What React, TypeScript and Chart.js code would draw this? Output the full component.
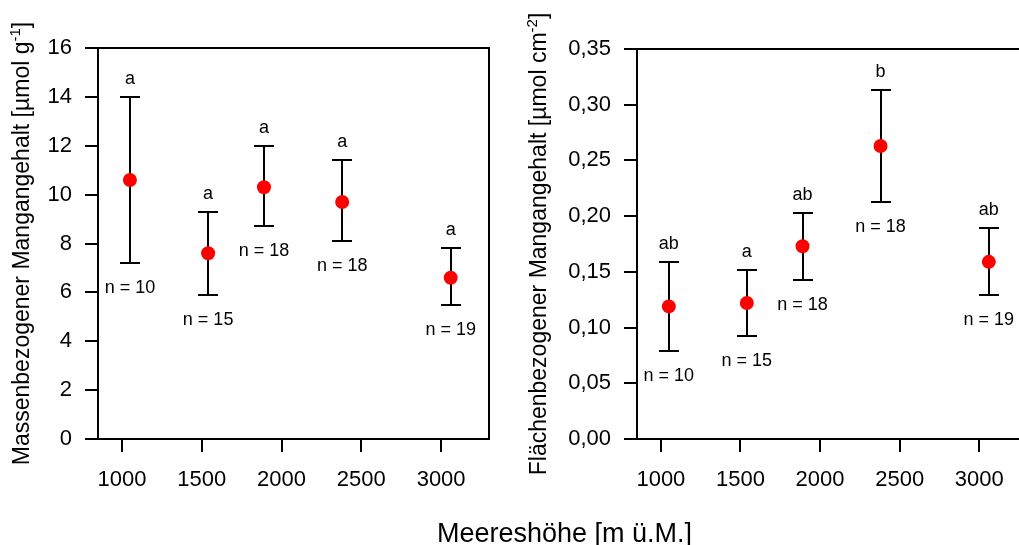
import React, { useEffect, useRef } from "react";
import { Chart, registerables } from "chart.js";

Chart.register(...registerables);

// ---------- data ----------
const altitudes = [1050, 1540, 1890, 2380, 3060];
const sampleSizes = [10, 15, 18, 18, 19];

const massMean = [10.6, 7.6, 10.3, 9.7, 6.6];
const massUpper = [14.0, 9.3, 12.0, 11.4, 7.8];
const massLower = [7.2, 5.9, 8.7, 8.1, 5.5];
const massLetters = ["a", "a", "a", "a", "a"];

const areaMean = [0.119, 0.122, 0.173, 0.263, 0.159];
const areaUpper = [0.159, 0.152, 0.203, 0.313, 0.189];
const areaLower = [0.079, 0.092, 0.143, 0.213, 0.129];
const areaLetters = ["ab", "a", "ab", "b", "ab"];

const xTickValues = [1000, 1500, 2000, 2500, 3000];
const massTickValues = [0, 2, 4, 6, 8, 10, 12, 14, 16];
const areaTickValues = [0, 0.05, 0.1, 0.15, 0.2, 0.25, 0.3, 0.35];

const xTitle = "Meereshöhe [m ü.M.]";
const massTitle = ["Massenbezogener Mangangehalt [µmol g", "-1", "]"];
const areaTitle = ["Flächenbezogener Mangangehalt [µmol cm", "-2", "]"];

const FONT = "'Liberation Sans', Arial, Helvetica, sans-serif";

type PanelSpec = {
  means: number[];
  upper: number[];
  lower: number[];
  letters: string[];
  yTicks: number[];
  yMax: number;
  fmt: (v: number) => string;
  title: string[];
  titleX: number;
  yAxisWidth: number;
  padTop: number;
  padRight: number;
  xAxisHeight: number;
};

function buildChart(canvas: HTMLCanvasElement, p: PanelSpec) {
  const decorations = {
    id: "decorations",
    beforeDatasetsDraw(chart: any) {
      const { ctx, scales } = chart;
      const x = scales.x;
      const y = scales.y;
      ctx.save();
      ctx.strokeStyle = "#000";
      ctx.lineWidth = 2;
      altitudes.forEach((a, i) => {
        const px = Math.round(x.getPixelForValue(a));
        const pt = Math.round(y.getPixelForValue(p.upper[i]));
        const pb = Math.round(y.getPixelForValue(p.lower[i]));
        ctx.beginPath();
        ctx.moveTo(px, pt);
        ctx.lineTo(px, pb);
        ctx.moveTo(px - 10, pt);
        ctx.lineTo(px + 10, pt);
        ctx.moveTo(px - 10, pb);
        ctx.lineTo(px + 10, pb);
        ctx.stroke();
      });
      ctx.restore();
    },
    afterDatasetsDraw(chart: any) {
      const { ctx, scales } = chart;
      const x = scales.x;
      const y = scales.y;
      ctx.save();
      ctx.fillStyle = "#000";
      ctx.font = `18px ${FONT}`;
      ctx.textAlign = "center";
      ctx.textBaseline = "alphabetic";
      altitudes.forEach((a, i) => {
        const px = x.getPixelForValue(a);
        const pt = y.getPixelForValue(p.upper[i]);
        const pb = y.getPixelForValue(p.lower[i]);
        ctx.fillText(p.letters[i], px, pt - 13);
        ctx.fillText(`n = ${sampleSizes[i]}`, px, pb + 30);
      });
      ctx.restore();
    },
    afterDraw(chart: any) {
      const { ctx, chartArea } = chart;
      ctx.save();
      ctx.strokeStyle = "#000";
      ctx.lineWidth = 2;
      const l = Math.round(chartArea.left);
      const t = Math.round(chartArea.top);
      const r = Math.round(chartArea.right);
      const b = Math.round(chartArea.bottom);
      ctx.strokeRect(l, t, r - l, b - t);
      // rotated y-axis title with superscript
      const cy = (chartArea.top + chartArea.bottom) / 2;
      ctx.translate(p.titleX, cy);
      ctx.rotate(-Math.PI / 2);
      ctx.fillStyle = "#000";
      ctx.textAlign = "left";
      ctx.textBaseline = "alphabetic";
      const mainFont = `23px ${FONT}`;
      const supFont = `15px ${FONT}`;
      ctx.font = mainFont;
      const w1 = ctx.measureText(p.title[0]).width;
      const w3 = ctx.measureText(p.title[2]).width;
      ctx.font = supFont;
      const w2 = ctx.measureText(p.title[1]).width;
      const total = w1 + w2 + w3;
      let sx = -total / 2;
      ctx.font = mainFont;
      ctx.fillText(p.title[0], sx, 0);
      sx += w1;
      ctx.font = supFont;
      ctx.fillText(p.title[1], sx, -9);
      sx += w2;
      ctx.font = mainFont;
      ctx.fillText(p.title[2], sx, 0);
      ctx.restore();
    },
  };

  return new Chart(canvas, {
    type: "scatter",
    data: {
      datasets: [
        {
          data: altitudes.map((a, i) => ({ x: a, y: p.means[i] })),
          pointRadius: 7,
          pointHoverRadius: 7,
          pointBackgroundColor: "#ff0000",
          pointBorderColor: "#ff0000",
          pointBorderWidth: 0,
          showLine: false,
        },
      ],
    },
    options: {
      animation: false,
      responsive: false,
      events: [],
      layout: {
        padding: { top: p.padTop, right: p.padRight, left: 0, bottom: 0 },
      },
      plugins: {
        legend: { display: false },
        tooltip: { enabled: false },
        title: { display: false },
      },
      scales: {
        x: {
          type: "linear",
          min: 850,
          max: 3300,
          afterBuildTicks: (s: any) => {
            s.ticks = xTickValues.map((v) => ({ value: v }));
          },
          afterFit: (s: any) => {
            s.height = p.xAxisHeight;
          },
          ticks: {
            color: "#000",
            font: { family: FONT, size: 22 },
            padding: 15,
            maxRotation: 0,
            callback: (v: any) => String(v),
          },
          grid: {
            display: true,
            drawOnChartArea: false,
            drawTicks: true,
            tickLength: 13,
            color: "#000",
            lineWidth: 2,
          },
          border: { display: false },
        },
        y: {
          type: "linear",
          min: 0,
          max: p.yMax,
          afterBuildTicks: (s: any) => {
            s.ticks = p.yTicks.map((v) => ({ value: v }));
          },
          afterFit: (s: any) => {
            s.width = p.yAxisWidth;
          },
          ticks: {
            color: "#000",
            font: { family: FONT, size: 22 },
            padding: 13,
            callback: (v: any) => p.fmt(Number(v)),
          },
          grid: {
            display: true,
            drawOnChartArea: false,
            drawTicks: true,
            tickLength: 13,
            color: "#000",
            lineWidth: 2,
          },
          border: { display: false },
        },
      },
    },
    plugins: [decorations],
  } as any);
}

function Panel({ spec, left, width }: { spec: PanelSpec; left: number; width: number }) {
  const ref = useRef<HTMLCanvasElement | null>(null);
  useEffect(() => {
    if (!ref.current) return;
    const chart = buildChart(ref.current, spec);
    return () => chart.destroy();
  }, []);
  return (
    <canvas
      ref={ref}
      width={width}
      height={545}
      style={{ position: "absolute", left, top: 0, width, height: 545 }}
    />
  );
}

const massSpec: PanelSpec = {
  means: massMean,
  upper: massUpper,
  lower: massLower,
  letters: massLetters,
  yTicks: massTickValues,
  yMax: 16,
  fmt: (v) => String(v),
  title: massTitle,
  titleX: 28.5,
  yAxisWidth: 98,
  padTop: 48,
  padRight: 31,
  xAxisHeight: 106,
};

const areaSpec: PanelSpec = {
  means: areaMean,
  upper: areaUpper,
  lower: areaLower,
  letters: areaLetters,
  yTicks: areaTickValues,
  yMax: 0.35,
  fmt: (v) => v.toFixed(2).replace(".", ","),
  title: areaTitle,
  titleX: 26,
  yAxisWidth: 117,
  padTop: 49,
  padRight: 33,
  xAxisHeight: 106,
};

export default function App() {
  return (
    <div
      style={{
        position: "absolute",
        left: 0,
        top: 0,
        width: 1019,
        height: 545,
        overflow: "hidden",
        background: "#fff",
      }}
    >
      <Panel spec={massSpec} left={0} width={520} />
      <Panel spec={areaSpec} left={520} width={540} />
      <div
        style={{
          position: "absolute",
          left: 364.5,
          width: 400,
          top: 520,
          textAlign: "center",
          fontFamily: FONT,
          fontSize: 27,
          lineHeight: "27px",
          color: "#000",
          whiteSpace: "nowrap",
        }}
      >
        {xTitle}
      </div>
    </div>
  );
}
